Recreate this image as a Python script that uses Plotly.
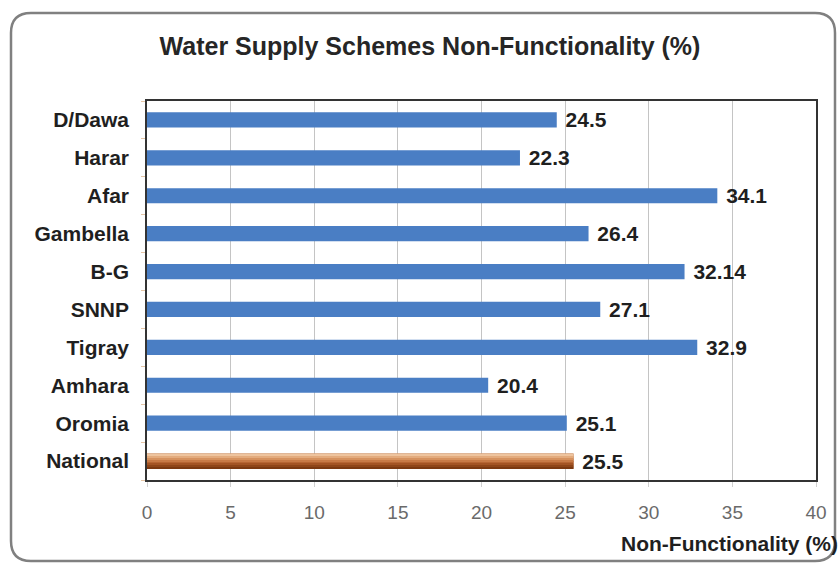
import plotly.graph_objects as go

regions = ["D/Dawa", "Harar", "Afar", "Gambella", "B-G", "SNNP", "Tigray", "Amhara", "Oromia", "National"]
non_functional = [24.5, 22.3, 34.1, 26.4, 32.14, 27.1, 32.9, 20.4, 25.1, 25.5]
value_labels = ["24.5", "22.3", "34.1", "26.4", "32.14", "27.1", "32.9", "20.4", "25.1", "25.5"]
x_ticks = [0, 5, 10, 15, 20, 25, 30, 35, 40]

# Brown shading for the national bar, bottom (dark) to top (light)
national_shades = ["#7a3810", "#8e4518", "#a35424", "#b66533", "#c77a46", "#d6925f", "#e3ab7d", "#eec49e"]

FONT = "Liberation Sans, Arial"
BAR_W = 0.4

bar_colors = ["#a35424" if r == "National" else "#4a7ec4" for r in regions]

fig = go.Figure()
fig.add_trace(go.Bar(
    y=regions,
    x=non_functional,
    orientation="h",
    width=BAR_W,
    marker=dict(color=bar_colors, line=dict(width=0)),
    text=value_labels,
    texttemplate=" %{text}",
    textposition="outside",
    constraintext="none",
    cliponaxis=False,
    textfont=dict(family=FONT, size=21, color="#1f1f1f", weight="bold"),
    hoverinfo="skip",
))

# Layered thin slices give the national bar its vertical gradient
nat_idx = regions.index("National")
slice_w = BAR_W / len(national_shades)
for i, shade in enumerate(national_shades):
    fig.add_trace(go.Bar(
        y=[regions[nat_idx]],
        x=[non_functional[nat_idx]],
        orientation="h",
        width=slice_w,
        offset=-BAR_W / 2 + i * slice_w,
        marker=dict(color=shade, line=dict(width=0)),
        hoverinfo="skip",
    ))

# Plot-area geometry (pixels) used to place the rounded outer frame in paper units
W, H = 840, 570
L, R, T, B = 147, 24, 101, 90
pw, ph = W - L - R, H - T - B

def px_to_paper(xp, yp):
    return (xp - L) / pw, (H - B - yp) / ph

x0, y0 = px_to_paper(11, 13)
x1, y1 = px_to_paper(835, 561)
rx, ry = 20 / pw, 20 / ph
frame = (
    f"M {x0 + rx},{y0} L {x1 - rx},{y0} Q {x1},{y0} {x1},{y0 - ry} "
    f"L {x1},{y1 + ry} Q {x1},{y1} {x1 - rx},{y1} "
    f"L {x0 + rx},{y1} Q {x0},{y1} {x0},{y1 + ry} "
    f"L {x0},{y0 - ry} Q {x0},{y0} {x0 + rx},{y0} Z"
)

fig.update_layout(
    width=W, height=H,
    margin=dict(l=L, r=R, t=T, b=B),
    paper_bgcolor="white",
    plot_bgcolor="white",
    showlegend=False,
    barmode="overlay",
    title=dict(
        text="<b>Water Supply Schemes Non-Functionality (%)</b>",
        x=430 / W, xanchor="center",
        y=1 - 46 / H, yanchor="middle",
        font=dict(family=FONT, size=25, color="#262626"),
    ),
    xaxis=dict(
        range=[0, 40],
        tickvals=x_ticks,
        ticktext=[str(v) for v in x_ticks],
        showgrid=True, gridcolor="#c4c4c4", gridwidth=1,
        zeroline=False,
        showline=True, linecolor="#333333", linewidth=1.5, mirror=True,
        ticks="outside", ticklen=5, tickcolor="#d0d0d0",
        tickfont=dict(family=FONT, size=19, color="#6a6a6a"),
        ticklabelstandoff=9,
        title=dict(text=""),
    ),
    yaxis=dict(
        categoryorder="array",
        categoryarray=list(reversed(regions)),
        range=[-0.5, len(regions) - 0.5],
        showgrid=False,
        showline=True, linecolor="#333333", linewidth=1.5, mirror=True,
        ticks="outside", ticklen=4, tickcolor="#e6c6a6", tickson="boundaries",
        tickfont=dict(family=FONT, size=21, color="#1f1f1f", weight="bold"),
        ticklabelstandoff=12,
    ),
    shapes=[dict(
        type="path", xref="paper", yref="paper", path=frame,
        line=dict(color="#808080", width=2.5), fillcolor="rgba(0,0,0,0)", layer="below",
    )],
    annotations=[dict(
        text="<b>Non-Functionality (%)</b>",
        xref="paper", yref="paper",
        x=px_to_paper(840, 0)[0], xanchor="right",
        y=px_to_paper(0, 543)[1], yanchor="middle",
        showarrow=False,
        font=dict(family=FONT, size=21, color="#1f1f1f"),
    )],
)

fig.write_html("out.html")
